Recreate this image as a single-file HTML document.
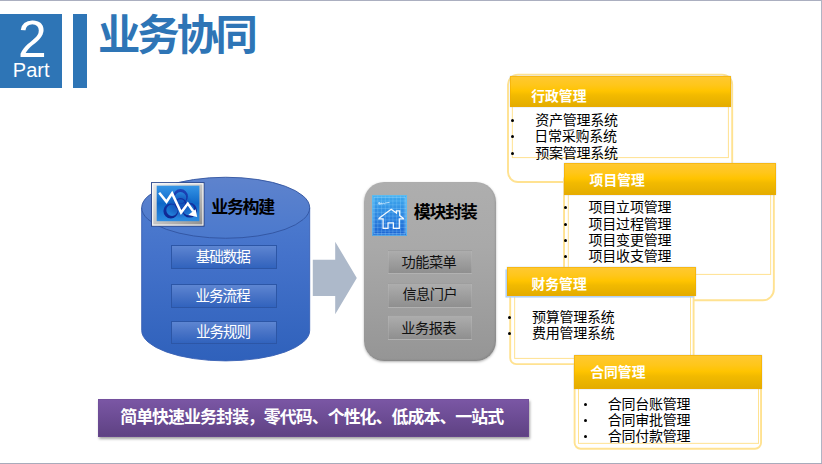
<!DOCTYPE html>
<html lang="zh-CN"><head><meta charset="utf-8"><title>业务协同</title>
<style>
html,body{margin:0;padding:0;background:#fff}
body{width:822px;height:464px;overflow:hidden;font-family:"Liberation Sans","Noto Sans CJK SC",sans-serif}
#slide{position:relative;width:822px;height:464px;overflow:hidden;background:#fff}
.abs{position:absolute}
.t{position:absolute;white-space:nowrap;overflow:hidden;line-height:1;font-family:"Liberation Sans","Noto Sans CJK SC",sans-serif;user-select:none}
.t svg{position:absolute;left:0;top:0;overflow:visible}
.t svg text{font-family:"Liberation Sans","Noto Sans CJK SC",sans-serif}
.bbtn{border:1px solid #2c56a6;background:linear-gradient(#5e86d2,#4873c6 50%,#3163bd);box-sizing:border-box}
#gpanel{border-radius:20px;background:linear-gradient(#aeaeae,#a9a9a9 36%,#a3a3a3 56%,#959595);box-shadow:0 1px 2.5px rgba(0,0,0,.3),inset -1px -1px 2px rgba(0,0,0,.10)}
.gbtn{border:1px solid rgba(190,190,190,.32);background:linear-gradient(#adadad,#8f8f8f);box-sizing:border-box}
.cout{border:1.8px solid #ffe6a0;box-sizing:border-box;background:#fff}
.cin{border:1.1px solid #ffe6a0;box-sizing:border-box;background:#fff}
.chead{background:linear-gradient(#ffc933 0%,#ffc61a 30%,#ffc400 48%,#f2ba00 62%,#e2ac00 100%);box-shadow:inset 0 0 0 1px rgba(240,170,0,.55),0 0 1.2px rgba(150,185,225,.75)}
.bul{border-radius:50%;background:#000}
#card3 .chead{box-shadow:inset 0 0 0 1px rgba(240,170,0,.55),-2px 2px 0 -0.4px rgba(175,208,245,.95),0 0 1.2px rgba(150,185,225,.8)}
#banner{background:linear-gradient(#7b57a5,#6c4c94 50%,#5e4182);box-shadow:1px 2px 2.5px rgba(0,0,0,.36),inset 0 0 0 0.8px rgba(110,75,150,.6)}
</style></head>
<body>
<div id="slide">
<div class="abs" style="left:0;top:0;width:822px;height:1px;background:#abafc0"></div>
<div class="abs" style="left:821px;top:0;width:1px;height:464px;background:#b0b4c4"></div>
<div class="abs" style="left:0;top:463px;width:822px;height:1px;background:#a8abbb"></div>
<div class="abs" id="partbox" style="left:0;top:14px;width:61.8px;height:73.8px;background:#2e75b6"></div>
<div class="abs" id="partbar" style="left:73.1px;top:14px;width:13.8px;height:73.8px;background:#2e75b6"></div>
<div class="t" style="left:18px;top:3px;width:35px;height:73px;font-size:51.5px"><svg width="35" height="73"><text x="0.1" y="54.2" font-size="51.5" fill="#fff">2</text></svg></div>
<div class="t" style="left:12px;top:54px;width:48px;height:31px;font-size:20px"><svg width="48" height="31"><text x="0.8" y="22.9" font-size="20" fill="#fff">Part</text></svg></div>
<div class="t h1" style="left:97px;top:7px;width:166px;height:60px;font-size:40px"><svg width="166" height="60"><text x="1" y="42.9" font-size="42.4" font-weight="bold" fill="#2e75b6" textLength="160" lengthAdjust="spacing">业务协同</text></svg></div>
<svg class="abs" style="left:130px;top:170px" width="200" height="200" viewBox="130 170 200 200">
<defs>
<linearGradient id="cylBody" gradientUnits="userSpaceOnUse" x1="0" y1="208" x2="0" y2="361"><stop offset="0" stop-color="#4d7bcf"/><stop offset="0.32" stop-color="#4472ca"/><stop offset="1" stop-color="#2f61bb"/></linearGradient>
<linearGradient id="cylTop" gradientUnits="userSpaceOnUse" x1="0" y1="177" x2="0" y2="238.5"><stop offset="0" stop-color="#5e83cd"/><stop offset="1" stop-color="#4b79cd"/></linearGradient>
</defs>
<path d="M141.7 207.8 L141.7 330.4 A84 30.5 0 0 0 309.7 330.4 L309.7 207.8 Z" fill="url(#cylBody)" stroke="#3860b4" stroke-width="0.9"/>
<ellipse cx="225.7" cy="207.75" rx="84" ry="30.5" fill="url(#cylTop)" stroke="#31539f" stroke-width="0.9"/>
</svg>
<div class="abs bbtn" style="left:171.2px;top:245.2px;width:106px;height:23.4px"></div>
<div class="abs bbtn" style="left:171.2px;top:284.3px;width:106px;height:23.7px"></div>
<div class="abs bbtn" style="left:171.2px;top:320.5px;width:106px;height:23.1px"></div>
<svg class="abs" style="left:150px;top:180px" width="58" height="50" viewBox="150 180 58 50">
<defs>
<linearGradient id="ic1f" x1="0" y1="0" x2="1" y2="1"><stop offset="0" stop-color="#ececec"/><stop offset="0.5" stop-color="#c4c4c4"/><stop offset="1" stop-color="#8c8c8c"/></linearGradient>
<linearGradient id="ic1b" x1="0" y1="0" x2="0" y2="1"><stop offset="0" stop-color="#3595e6"/><stop offset="0.5" stop-color="#0f68c8"/><stop offset="1" stop-color="#2c8ce2"/></linearGradient>
<linearGradient id="ic1h" x1="0" y1="0" x2="0" y2="1"><stop offset="0" stop-color="#1b3cb4"/><stop offset="1" stop-color="#0d1d88"/></linearGradient>
<radialGradient id="ic1r" cx="0.5" cy="0.5" r="0.5"><stop offset="0" stop-color="#1428a0" stop-opacity="0.45"/><stop offset="0.6" stop-color="#1428a0" stop-opacity="0.25"/><stop offset="1" stop-color="#1428a0" stop-opacity="0"/></radialGradient>
<clipPath id="ic1c"><rect x="156.7" y="185.7" width="42.7" height="35.5"/></clipPath>
</defs>
<rect x="151.5" y="182.6" width="52.6" height="43.6" fill="url(#ic1f)" stroke="#27448c" stroke-width="0.9"/>
<rect x="152.7" y="183.8" width="50.2" height="41.2" fill="none" stroke="#fff" stroke-width="1.1" opacity="0.9"/>
<rect x="156.7" y="185.7" width="42.7" height="35.5" fill="url(#ic1b)"/>
<g clip-path="url(#ic1c)" opacity="0.9">
<circle cx="180.4" cy="205.5" r="13" fill="url(#ic1r)"/>
<path d="M173.1 196.4a7.4 7.4 0 1 0 14.8 0a7.4 7.4 0 1 0 -14.8 0ZM174.8 197.8a5.7 5.7 0 1 0 11.4 0a5.7 5.7 0 1 0 -11.4 0ZM163.4 211.0a7.4 7.4 0 1 0 14.8 0a7.4 7.4 0 1 0 -14.8 0ZM166.3 210.2a5.7 5.7 0 1 0 11.4 0a5.7 5.7 0 1 0 -11.4 0ZM182.2 210.2a7.4 7.4 0 1 0 14.8 0a7.4 7.4 0 1 0 -14.8 0ZM182.7 209.5a5.7 5.7 0 1 0 11.4 0a5.7 5.7 0 1 0 -11.4 0Z" fill="url(#ic1h)" fill-rule="evenodd"/>
<circle cx="180.5" cy="203.8" r="5.2" fill="none" stroke="#13279a" stroke-width="1.2"/>
</g>
<path d="M159.2 192.8 L166.5 201.8 L172.1 193.4 L181.1 212.6 L187.8 203.6 L193.2 211.4" fill="none" stroke="#fff" stroke-width="2.5" stroke-linejoin="miter" stroke-miterlimit="6" stroke-linecap="butt"/>
<path d="M197.2 217 L188.3 214.9 L195.6 209.2 Z" fill="#fff"/>
</svg>
<div class="t h2" style="left:209px;top:195px;width:70px;height:26px;font-size:16px"><svg width="70" height="26"><text x="2.2" y="18.05" font-size="16.96" font-weight="bold" fill="#000" textLength="64" lengthAdjust="spacing">业务构建</text></svg></div>
<div class="t " style="left:194px;top:245px;width:61px;height:23px;font-size:13.8px"><svg width="61" height="23"><text x="1.7" y="16.64" font-size="14.63" fill="#fff" textLength="55.2" lengthAdjust="spacing">基础数据</text></svg></div>
<div class="t " style="left:193px;top:285px;width:61px;height:23px;font-size:13.8px"><svg width="61" height="23"><text x="2.5" y="16.13" font-size="14.63" fill="#fff" textLength="55.2" lengthAdjust="spacing">业务流程</text></svg></div>
<div class="t " style="left:194px;top:321px;width:61px;height:23px;font-size:13.8px"><svg width="61" height="23"><text x="1.9" y="16.36" font-size="14.63" fill="#fff" textLength="55.2" lengthAdjust="spacing">业务规则</text></svg></div>
<svg class="abs" style="left:310px;top:238px" width="50" height="80" viewBox="310 238 50 80">
<path d="M312.8 259.7 H335.2 V241.7 L356.8 278 L335.2 314.2 V296 H312.8 Z" fill="#adb9ca"/></svg>
<div class="abs" id="gpanel" style="left:364.1px;top:182px;width:131.6px;height:178.9px"></div>
<div class="abs gbtn" style="left:388px;top:250px;width:84.3px;height:23.7px"></div>
<div class="abs gbtn" style="left:388px;top:283.1px;width:84.3px;height:24.5px"></div>
<div class="abs gbtn" style="left:388px;top:315.4px;width:84.3px;height:24.2px"></div>
<svg class="abs" style="left:371px;top:193px" width="40" height="46" viewBox="371 193 40 46">
<defs>
<linearGradient id="ic2b" x1="0" y1="0" x2="0" y2="1"><stop offset="0" stop-color="#3faaee"/><stop offset="1" stop-color="#1b62d2"/></linearGradient>
</defs>
<rect x="372.2" y="195.2" width="34.8" height="40.6" fill="url(#ic2b)"/>
<path d="M377.8 195.3V235.7M381.6 195.3V235.7M385.3 195.3V235.7M389.1 195.3V235.7M392.9 195.3V235.7M396.7 195.3V235.7M400.5 195.3V235.7M404.2 195.3V235.7M372.2 201.0H407M372.2 204.8H407M372.2 208.5H407M372.2 212.3H407M372.2 216.1H407M372.2 219.9H407M372.2 223.7H407M372.2 227.4H407M372.2 231.2H407" stroke="#9bdcff" stroke-width="0.5" opacity="0.5" fill="none"/>
<rect x="374" y="197.2" width="31.2" height="36.6" fill="none" stroke="#a5e0ff" stroke-width="0.7" opacity="0.7"/>
<rect x="372.7" y="195.7" width="33.8" height="39.6" fill="none" stroke="#62c4f8" stroke-width="1" opacity="0.8"/>
<path d="M378.2 218.8 H383.1 M399.3 218.8 H404.1 M379 218.3 L391.2 209.3 L396.4 213.1 V210.8 H399.7 V215.6 L403.6 218.5 M383.1 218.3 V228.3 H388 V222.9 H393.4 V228.3 H399.3 V218.3" fill="none" stroke="#fff" stroke-width="1.25" stroke-linejoin="miter" opacity="0.95"/>
<path d="M378.4 204.3 l0.8 -2.2 l0.7 2.6 l1.2 -2 l1 1.6 l1.3 -1.5 l0.9 1.2 l1.2 -1 l4 -0.6" fill="none" stroke="#eaf7ff" stroke-width="0.8" opacity="0.9"/>
</svg>
<div class="t h2" style="left:412px;top:199px;width:70px;height:26px;font-size:16px"><svg width="70" height="26"><text x="1.7" y="18.99" font-size="16.96" font-weight="bold" fill="#000" textLength="64" lengthAdjust="spacing">模块封装</text></svg></div>
<div class="t " style="left:400px;top:250px;width:61px;height:23px;font-size:13.8px"><svg width="61" height="23"><text x="1.6" y="16.6" font-size="14.2" fill="#111" textLength="55.2" lengthAdjust="spacing">功能菜单</text></svg></div>
<div class="t " style="left:400px;top:283px;width:61px;height:23px;font-size:13.8px"><svg width="61" height="23"><text x="2.4" y="16.22" font-size="14.2" fill="#111" textLength="55.2" lengthAdjust="spacing">信息门户</text></svg></div>
<div class="t " style="left:399px;top:316px;width:61px;height:23px;font-size:13.8px"><svg width="61" height="23"><text x="2.3" y="16.54" font-size="14.2" fill="#111" textLength="55.2" lengthAdjust="spacing">业务报表</text></svg></div>
<section class="card" id="card1">
<svg class="abs" style="left:504px;top:70px" width="233" height="117" viewBox="504 70 233 117" aria-hidden="true"><path d="M518 74.6H722.2A10 10 0 0 1 732.2 84.6V172A10 10 0 0 1 722.2 182H518A10 10 0 0 1 508 172V84.6A10 10 0 0 1 518 74.6Z" fill="#fff" stroke="#ffe291" stroke-width="1.9"/><rect x="512.35" y="100" width="216.05" height="57.6" fill="#fff" stroke="#ffe291" stroke-width="1"/></svg>
<div class="abs chead" style="left:510px;top:75.9px;width:221.1px;height:31px"></div>
<div class="t ch" style="left:529px;top:85px;width:61px;height:23px;font-size:13.8px"><svg width="61" height="23"><text x="2.25" y="15.95" font-size="13.8" font-weight="bold" fill="#fff" textLength="55.2" lengthAdjust="spacing">行政管理</text></svg></div>
<div class="abs bul" style="left:510.65px;top:118.65px;width:3.7px;height:3.7px"></div>
<div class="t li" style="left:533px;top:109px;width:88px;height:23px;font-size:13.8px"><svg width="88" height="23"><text x="2.2" y="15.87" font-size="14" fill="#000" textLength="82.8" lengthAdjust="spacing">资产管理系统</text></svg></div>
<div class="abs bul" style="left:510.65px;top:134.55px;width:3.7px;height:3.7px"></div>
<div class="t li" style="left:532px;top:125px;width:88px;height:23px;font-size:13.8px"><svg width="88" height="23"><text x="2.3" y="16.16" font-size="14" fill="#000" textLength="82.8" lengthAdjust="spacing">日常采购系统</text></svg></div>
<div class="abs bul" style="left:510.65px;top:151.65px;width:3.7px;height:3.7px"></div>
<div class="t li" style="left:533px;top:142px;width:88px;height:23px;font-size:13.8px"><svg width="88" height="23"><text x="2.3" y="15.87" font-size="14" fill="#000" textLength="82.8" lengthAdjust="spacing">预案管理系统</text></svg></div>
</section>
<section class="card" id="card2">
<svg class="abs" style="left:559px;top:159px" width="222" height="146" viewBox="559 159 222 146" aria-hidden="true"><path d="M575.05 170H762.85A11 11 0 0 1 773.85 181V289.3A11 11 0 0 1 762.85 300.3H575.05A11 11 0 0 1 564.05 289.3V181A11 11 0 0 1 575.05 170Z" fill="#fff" stroke="#ffe291" stroke-width="1.9"/><rect x="568.3" y="190" width="202.35" height="84.4" fill="#fff" stroke="#ffe291" stroke-width="1"/></svg>
<div class="abs chead" style="left:563.8px;top:163.2px;width:212.2px;height:31.5px"></div>
<div class="t ch" style="left:588px;top:169px;width:61px;height:23px;font-size:13.8px"><svg width="61" height="23"><text x="1.6" y="16.01" font-size="13.8" font-weight="bold" fill="#fff" textLength="55.2" lengthAdjust="spacing">项目管理</text></svg></div>
<div class="abs bul" style="left:564.15px;top:205.95px;width:3.3px;height:3.3px"></div>
<div class="t li" style="left:587px;top:196px;width:88px;height:23px;font-size:13.8px"><svg width="88" height="23"><text x="1.6" y="16.02" font-size="14" fill="#000" textLength="82.8" lengthAdjust="spacing">项目立项管理</text></svg></div>
<div class="abs bul" style="left:564.15px;top:222.65px;width:3.3px;height:3.3px"></div>
<div class="t li" style="left:587px;top:212px;width:88px;height:23px;font-size:13.8px"><svg width="88" height="23"><text x="1.6" y="16.61" font-size="14" fill="#000" textLength="82.8" lengthAdjust="spacing">项目过程管理</text></svg></div>
<div class="abs bul" style="left:564.15px;top:238.65px;width:3.3px;height:3.3px"></div>
<div class="t li" style="left:587px;top:229px;width:88px;height:23px;font-size:13.8px"><svg width="88" height="23"><text x="1.6" y="15.88" font-size="14" fill="#000" textLength="82.8" lengthAdjust="spacing">项目变更管理</text></svg></div>
<div class="abs bul" style="left:564.15px;top:254.95px;width:3.3px;height:3.3px"></div>
<div class="t li" style="left:587px;top:245px;width:88px;height:23px;font-size:13.8px"><svg width="88" height="23"><text x="1.6" y="16.11" font-size="14" fill="#000" textLength="82.8" lengthAdjust="spacing">项目收支管理</text></svg></div>
</section>
<section class="card" id="card3">
<svg class="abs" style="left:502px;top:263px" width="199" height="106" viewBox="502 263 199 106" aria-hidden="true"><path d="M516.2 280H687.6A6 6 0 0 1 693.6 286V358.1A6 6 0 0 1 687.6 364.1H516.2A6 6 0 0 1 510.2 358.1V286A6 6 0 0 1 516.2 280Z" fill="#fff" stroke="#ffe291" stroke-width="1.9"/><rect x="514.65" y="290" width="175.85" height="68.4" fill="#fff" stroke="#ffe291" stroke-width="1"/></svg>
<div class="abs chead" style="left:506.9px;top:267px;width:189.2px;height:29px"></div>
<div class="t ch" style="left:529px;top:272px;width:61px;height:23px;font-size:13.8px"><svg width="61" height="23"><text x="2.5" y="16.56" font-size="13.8" font-weight="bold" fill="#fff" textLength="55.2" lengthAdjust="spacing">财务管理</text></svg></div>
<div class="abs bul" style="left:507.65px;top:315.95px;width:3.3px;height:3.3px"></div>
<div class="t li" style="left:530px;top:306px;width:88px;height:23px;font-size:13.8px"><svg width="88" height="23"><text x="1.9" y="15.91" font-size="14" fill="#000" textLength="82.8" lengthAdjust="spacing">预算管理系统</text></svg></div>
<div class="abs bul" style="left:507.65px;top:331.55px;width:3.3px;height:3.3px"></div>
<div class="t li" style="left:530px;top:322px;width:88px;height:23px;font-size:13.8px"><svg width="88" height="23"><text x="1.9" y="16.08" font-size="14" fill="#000" textLength="82.8" lengthAdjust="spacing">费用管理系统</text></svg></div>
</section>
<section class="card" id="card4">
<svg class="abs" style="left:569px;top:351px" width="198" height="102" viewBox="569 351 198 102" aria-hidden="true"><path d="M580.6 360H755.05A6 6 0 0 1 761.05 366V442.8A6 6 0 0 1 755.05 448.8H580.6A6 6 0 0 1 574.6 442.8V366A6 6 0 0 1 580.6 360Z" fill="#fff" stroke="#ffe291" stroke-width="1.9"/><rect x="578.5" y="380" width="180" height="63.35" fill="#fff" stroke="#ffe291" stroke-width="1"/></svg>
<div class="abs chead" style="left:573.8px;top:355.2px;width:188.4px;height:33.4px"></div>
<div class="t ch" style="left:588px;top:360px;width:61px;height:23px;font-size:13.8px"><svg width="61" height="23"><text x="2.25" y="16.76" font-size="13.8" font-weight="bold" fill="#fff" textLength="55.2" lengthAdjust="spacing">合同管理</text></svg></div>
<div class="abs bul" style="left:583.65px;top:403.15px;width:3.3px;height:3.3px"></div>
<div class="t li" style="left:606px;top:393px;width:88px;height:23px;font-size:13.8px"><svg width="88" height="23"><text x="1.8" y="16.48" font-size="14" fill="#000" textLength="82.8" lengthAdjust="spacing">合同台账管理</text></svg></div>
<div class="abs bul" style="left:583.65px;top:418.95px;width:3.3px;height:3.3px"></div>
<div class="t li" style="left:606px;top:409px;width:88px;height:23px;font-size:13.8px"><svg width="88" height="23"><text x="1.8" y="16.32" font-size="14" fill="#000" textLength="82.8" lengthAdjust="spacing">合同审批管理</text></svg></div>
<div class="abs bul" style="left:583.65px;top:434.55px;width:3.3px;height:3.3px"></div>
<div class="t li" style="left:606px;top:425px;width:88px;height:23px;font-size:13.8px"><svg width="88" height="23"><text x="1.8" y="16.4" font-size="14" fill="#000" textLength="82.8" lengthAdjust="spacing">合同付款管理</text></svg></div>
</section>
<div class="abs" id="banner" style="left:98px;top:399px;width:431px;height:37.8px"></div>
<div class="t bn" style="left:118px;top:405px;width:390px;height:26px;font-size:16px"><svg width="390" height="26"><text x="2.2" y="18.4" font-size="16.96" font-weight="bold" fill="#fff" textLength="384" lengthAdjust="spacing">简单快速业务封装，零代码、个性化、低成本、一站式</text></svg></div>
</div>
</body></html>
